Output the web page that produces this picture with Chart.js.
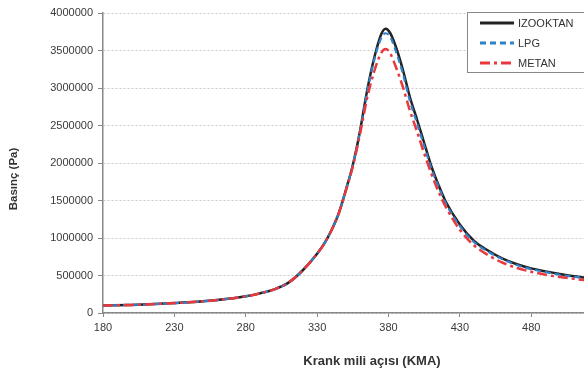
<!DOCTYPE html>
<html lang="tr">
<head>
<meta charset="UTF-8">
<title>Basınç - Krank mili açısı</title>
<script src="https://cdn.jsdelivr.net/npm/chart.js"></script>
<style>
    html, body { margin: 0; padding: 0; background: #fff; }
    #wrap { width: 584px; height: 374px; position: relative; }
</style>
</head>
<body>
<div id="wrap"><canvas id="pressureChart"></canvas></div>
<script>
// crank angle (KMA) and cylinder pressure (Pa)
const angles = [180, 200, 220, 240, 260, 280, 290, 300, 310, 320, 330, 335, 340, 345, 350, 355, 360, 365, 370, 375,
                378, 381, 385, 390, 395, 400, 405, 410, 415, 420, 430, 440, 450, 460, 470, 480, 490, 500, 510, 520];
const izooktan = [100000, 108000, 122000, 142000, 172000, 222000, 262000, 315000, 405000, 570000, 790000, 925000, 1100000, 1320000, 1630000, 1970000, 2420000, 2960000, 3400000, 3720000,
                  3790000, 3740000, 3560000, 3250000, 2880000, 2580000, 2270000, 1960000, 1710000, 1490000, 1180000, 960000, 830000, 725000, 650000, 595000, 555000, 520000, 490000, 465000];
const lpg = [100000, 108000, 122000, 142000, 172000, 222000, 262000, 315000, 405000, 570000, 790000, 925000, 1100000, 1320000, 1630000, 1970000, 2410000, 2940000, 3370000, 3670000,
             3730000, 3690000, 3500000, 3200000, 2830000, 2530000, 2230000, 1930000, 1690000, 1470000, 1160000, 945000, 815000, 715000, 640000, 585000, 545000, 510000, 482000, 460000];
const metan = [100000, 108000, 122000, 142000, 172000, 222000, 262000, 315000, 405000, 570000, 790000, 925000, 1100000, 1320000, 1620000, 1950000, 2380000, 2860000, 3220000, 3470000,
               3520000, 3470000, 3290000, 3020000, 2700000, 2420000, 2130000, 1860000, 1620000, 1420000, 1110000, 900000, 770000, 670000, 600000, 550000, 510000, 480000, 455000, 435000];

const xTicks = [180, 230, 280, 330, 380, 430, 480];
const yTicks = [0, 500000, 1000000, 1500000, 2000000, 2500000, 3000000, 3500000, 4000000];
const seriesNames = ["IZOOKTAN", "LPG", "METAN"];

const FONT = "'Liberation Sans', Arial, sans-serif";

function toPoints(values) {
    return angles.map((a, i) => ({ x: a, y: values[i] }));
}

// legend box + axis titles, drawn where the original had them
const extrasPlugin = {
    id: "extras",
    afterDraw(chart) {
        const ctx = chart.ctx;
        ctx.save();

        // legend
        ctx.fillStyle = "#fff";
        ctx.fillRect(467.5, 12.5, 130, 60);
        ctx.strokeStyle = "#888";
        ctx.lineWidth = 1;
        ctx.strokeRect(467.5, 12.5, 130, 60);
        const rows = [23, 43, 63];
        ctx.font = "11px " + FONT;
        ctx.textBaseline = "middle";
        chart.data.datasets.forEach((ds, r) => {
            ctx.beginPath();
            ctx.setLineDash(ds.borderDash || []);
            ctx.strokeStyle = ds.borderColor;
            ctx.lineWidth = 2.8;
            ctx.moveTo(480, rows[r]);
            ctx.lineTo(514, rows[r]);
            ctx.stroke();
            ctx.setLineDash([]);
            ctx.fillStyle = "#333";
            ctx.fillText(ds.label, 518, rows[r] + 0.5);
        });

        // axis titles
        ctx.fillStyle = "#333";
        ctx.textAlign = "center";
        ctx.textBaseline = "middle";
        ctx.font = "bold 13px " + FONT;
        ctx.fillText("Krank mili açısı (KMA)", 372, 361);
        ctx.font = "bold 11.5px " + FONT;
        ctx.translate(14, 179);
        ctx.rotate(-Math.PI / 2);
        ctx.fillText("Basınç (Pa)", 0, 0);
        ctx.restore();
    }
};

const ctx = document.getElementById("pressureChart");
new Chart(ctx, {
    type: "line",
    data: {
        datasets: [
            {
                label: seriesNames[0],
                data: toPoints(izooktan),
                borderColor: "#222222",
                borderWidth: 2.5,
                order: 2
            },
            {
                label: seriesNames[1],
                data: toPoints(lpg),
                borderColor: "#2f82c8",
                borderWidth: 2.2,
                borderDash: [6, 4],
                order: 1
            },
            {
                label: seriesNames[2],
                data: toPoints(metan),
                borderColor: "#e8393f",
                borderWidth: 2.5,
                borderDash: [10, 4, 3, 4],
                order: 0
            }
        ]
    },
    options: {
        responsive: true,
        maintainAspectRatio: false,
        animation: false,
        elements: {
            point: { radius: 0 },
            line: { tension: 0.4, cubicInterpolationMode: "monotone", fill: false }
        },
        layout: { padding: { top: 13, right: 0, left: 0, bottom: 0 } },
        plugins: {
            legend: { display: false },
            tooltip: { enabled: false }
        },
        scales: {
            x: {
                type: "linear",
                min: 180,
                max: 517,
                afterBuildTicks: s => { s.ticks = xTicks.map(v => ({ value: v })); },
                afterFit: s => { s.height = 61; },
                grid: { drawOnChartArea: false, drawTicks: true, tickLength: 4, tickColor: "#888" },
                border: { color: "#888", width: 1.5 },
                ticks: {
                    color: "#3a3a3a",
                    font: { family: FONT, size: 11 },
                    padding: 4,
                    maxRotation: 0,
                    callback: v => String(v)
                }
            },
            y: {
                min: 0,
                max: 4000000,
                afterBuildTicks: s => { s.ticks = yTicks.map(v => ({ value: v })); },
                afterFit: s => { s.width = 103; },
                grid: { color: "#c8c8c8", lineWidth: 1, drawTicks: true, tickLength: 5, tickColor: "#888", tickBorderDash: [] },
                border: { color: "#888", width: 1.5, dash: [2, 2] },
                ticks: {
                    color: "#3a3a3a",
                    font: { family: FONT, size: 11 },
                    padding: 5,
                    callback: v => String(v)
                }
            }
        }
    },
    plugins: [extrasPlugin]
});
</script>
</body>
</html>
